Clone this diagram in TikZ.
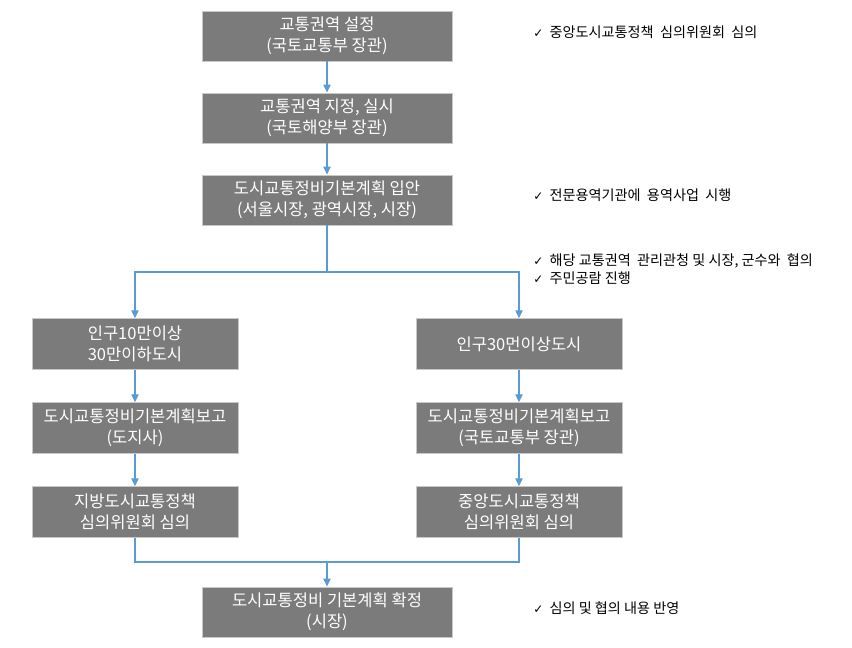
\documentclass[tikz,border=0pt]{standalone}
\usepackage{fontspec}
\setmainfont{Noto Sans CJK KR}
\newfontfamily\checkfont{DejaVu Sans}
\usepackage{xcolor}
\usepackage{tikz}
\usetikzlibrary{
    positioning, % relative placement
    arrows.meta  % arrow tips
}
\definecolor{boxgray}{HTML}{7B7B7B}
\definecolor{boxedge}{HTML}{C8C8C8}
\definecolor{flowblue}{HTML}{5B9BD5}
\newcommand{\chk}{{\checkfont\small ✓}}

\begin{document}
\begin{tikzpicture}[x=0.75pt,y=-0.75pt]
    % blocks
    \tikzstyle{block} = [rectangle, fill=boxgray, draw=boxedge, line width=0.6pt, text=white,
                         align=center, inner sep=0pt, font=\fontsize{12.4}{15.5}\selectfont]
    \tikzstyle{wide}  = [block, minimum width=187.5pt, minimum height=37.5pt]
    \tikzstyle{side}  = [block, minimum width=154.5pt, minimum height=38pt]
    \tikzstyle{conn}  = [draw=flowblue, line width=1pt]
    \tikzstyle{line}  = [conn, -{Triangle[width=5.5pt,length=6pt]}]
    \tikzstyle{note}  = [anchor=west, inner sep=0pt, font=\fontsize{10.6}{12}\selectfont]
    \useasboundingbox (0,0) rectangle (852,648);
    % main column
    \node[wide] (set)  at (327,36)  {교통권역 설정\\(국토교통부 장관)};
    \node[wide] (desg) at (327,118) {교통권역 지정, 실시\\(국토해양부 장관)};
    \node[wide] (plan) at (327,200) {도시교통정비기본계획 입안\\(서울시장, 광역시장, 시장)};
    % left branch
    \node[side] (small)  at (135,344) {인구10만이상\\30만이하도시};
    \node[side] (repl)   at (135,428) {도시교통정비기본계획보고\\(도지사)};
    \node[side] (localc) at (135,512) {지방도시교통정책\\심의위원회 심의};
    % right branch
    \node[side] (large)  at (519,344) {인구30먼이상도시};
    \node[side] (repr)   at (519,428) {도시교통정비기본계획보고\\(국토교통부 장관)};
    \node[side] (centc)  at (519,512) {중앙도시교통정책\\심의위원회 심의};
    % final
    \node[wide] (fix)  at (327,612) {도시교통정비 기본계획 확정\\(시장)};
    % notes
    \node[note] (n1) at (533,32)  {\chk\ \ 중앙도시교통정책\ \ 심의위원회\ \ 심의};
    \node[note] (n2) at (533,195) {\chk\ \ 전문용역기관에\ \ 용역사업\ \ 시행};
    \node[note] (n3) at (533,261) {\chk\ \ 해당 교통권역\ \ 관리관청 및 시장, 군수와\ \ 협의};
    \node[note] (n4) at (533,278) {\chk\ \ 주민공람 진행};
    \node[note] (n5) at (533,608) {\chk\ \ 심의 및 협의 내용 반영};
    % arrows
    \coordinate (split) at (327,272);
    \coordinate (merge) at (327,562);
    \draw[line] (set) -- (desg);
    \draw[line] (desg) -- (plan);
    \draw[line] (plan) -- (split) -| (small);
    \draw[line] (split) -| (large);
    \draw[line] (small) -- (repl);
    \draw[line] (repl) -- (localc);
    \draw[line] (large) -- (repr);
    \draw[line] (repr) -- (centc);
    \draw[conn] (localc) |- (merge);
    \draw[conn] (centc) |- (merge);
    \draw[line] (merge) -- (fix);
\end{tikzpicture}
\end{document}
